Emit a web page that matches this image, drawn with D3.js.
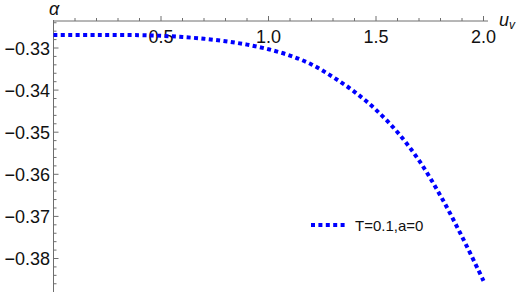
<!DOCTYPE html>
<html><head><meta charset="utf-8">
<script src="https://cdn.jsdelivr.net/npm/d3@7"></script>
<style>body{margin:0;background:#fff}svg{display:block}text{font-family:"Liberation Sans",Arial,sans-serif}</style>
</head><body>
<script>
const uValues = [0, 0.2, 0.4, 0.5, 0.6, 0.7, 0.8, 0.9, 1.0, 1.1, 1.2, 1.3, 1.4, 1.5, 1.6, 1.7, 1.8, 1.9, 2.0];
const alphaValues = [-0.3269, -0.3269, -0.32695, -0.3271, -0.3274, -0.3278, -0.3284, -0.3292, -0.3303, -0.3318, -0.3339, -0.3369, -0.3404, -0.3447, -0.3500, -0.3567, -0.3651, -0.3748, -0.3853];
const xTickValues = [0.5, 1.0, 1.5, 2.0];
const yTickValues = [-0.33, -0.34, -0.35, -0.36, -0.37, -0.38];
const seriesLabel = "T=0.1,a=0";

const W = 518, H = 296;
const svg = d3.select("body").append("svg").attr("width", W).attr("height", H);
const x = d3.scaleLinear().domain([0, 2]).range([53.5, 483.5]);
const y = d3.scaleLinear().domain([-0.38, -0.33]).range([258.5, 48]);
const yTop = 21, yBot = 292;
const axisCol = "#6e6e6e";

svg.append("line").attr("x1", x(0)).attr("x2", 488).attr("y1", yTop).attr("y2", yTop)
  .attr("stroke", axisCol).attr("stroke-width", 1);
svg.append("line").attr("x1", x(0)).attr("x2", x(0)).attr("y1", yTop - 1).attr("y2", yBot)
  .attr("stroke", axisCol).attr("stroke-width", 1);

const xMinor = d3.range(1, 21).map(i => i / 10);
xMinor.forEach(v => {
  const major = xTickValues.some(t => Math.abs(t - v) < 1e-9);
  svg.append("line").attr("x1", x(v)).attr("x2", x(v)).attr("y1", yTop).attr("y2", yTop - (major ? 5 : 3))
    .attr("stroke", axisCol).attr("stroke-width", 1);
});
xTickValues.forEach(v => {
  svg.append("text").attr("x", x(v)).attr("y", 43).attr("text-anchor", "middle")
    .attr("font-size", 18).attr("fill", "#111").text(d3.format(".1f")(v));
});

const yMin = y.invert(yBot), yMax = y.invert(yTop);
const yMinor = d3.range(Math.ceil(yMin / 0.002), Math.floor(yMax / 0.002) + 1).map(i => i * 0.002);
yMinor.forEach(v => {
  const major = yTickValues.some(t => Math.abs(t - v) < 1e-9);
  svg.append("line").attr("x1", x(0)).attr("x2", x(0) + (major ? 5 : 3)).attr("y1", y(v)).attr("y2", y(v))
    .attr("stroke", axisCol).attr("stroke-width", 1);
});
yTickValues.forEach(v => {
  svg.append("text").attr("x", 50).attr("y", y(v) + 6.5).attr("text-anchor", "end")
    .attr("font-size", 18).attr("fill", "#111").text("\u2212" + d3.format(".2f")(-v));
});

svg.append("text").attr("x", 49).attr("y", 15).attr("font-size", 18).attr("font-style", "italic")
  .attr("fill", "#111").text("\u03b1");
const ul = svg.append("text").attr("x", 499).attr("y", 26).attr("font-size", 18).attr("font-style", "italic").attr("fill", "#111");
ul.append("tspan").text("u");
ul.append("tspan").attr("font-size", 12).attr("dy", 3).text("v");

const data = uValues.map((u, i) => ({u, a: alphaValues[i]}));
const line = d3.line().x(d => x(d.u)).y(d => y(d.a)).curve(d3.curveCatmullRom);
svg.append("path").datum(data).attr("d", line).attr("fill", "none")
  .attr("stroke", "#0000ff").attr("stroke-width", 4).attr("stroke-dasharray", "4,3.4");

svg.append("line").attr("x1", 311).attr("x2", 347).attr("y1", 225).attr("y2", 225)
  .attr("stroke", "#0000ff").attr("stroke-width", 4).attr("stroke-dasharray", "4,3.4");
svg.append("text").attr("x", 355).attr("y", 230.5).attr("font-size", 15).attr("fill", "#111").text(seriesLabel);
</script>
</body></html>
